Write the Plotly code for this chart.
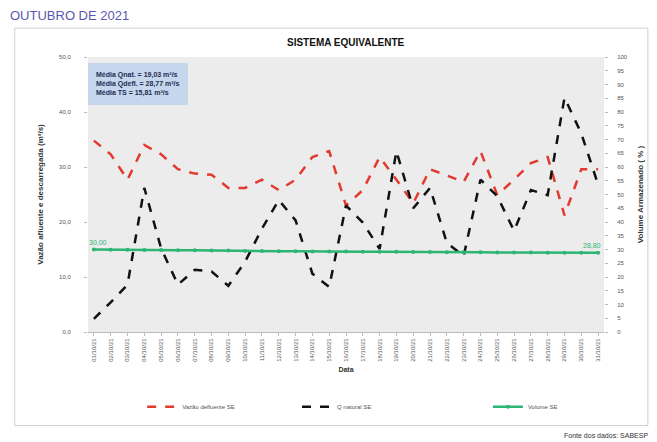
import plotly.graph_objects as go

dates = ["%02d/10/21" % d for d in range(1, 32)]

vazao_defluente = [34.8, 32.3, 27.7, 34.0, 32.3, 29.6, 28.8, 28.6, 26.2, 26.2,
                   27.7, 25.8, 27.7, 31.8, 32.9, 23.0, 25.8, 31.8, 27.7, 23.4,
                   29.6, 28.4, 27.3, 32.9, 24.9, 27.7, 30.7, 31.8, 21.2, 29.6, 29.6]

q_natural = [2.4, 5.4, 8.6, 26.2, 15.2, 8.6, 11.3, 11.0, 8.4, 12.8,
             18.8, 24.0, 20.3, 10.6, 8.2, 23.0, 19.9, 15.1, 32.9, 22.5,
             26.2, 16.2, 13.8, 27.7, 24.7, 18.4, 25.8, 24.9, 42.6, 36.1, 26.8]

volume = [30.0, 29.9, 29.9, 29.8, 29.8, 29.7, 29.7, 29.6, 29.6, 29.5,
          29.5, 29.4, 29.4, 29.3, 29.3, 29.3, 29.2, 29.2, 29.2, 29.1,
          29.1, 29.0, 29.0, 29.0, 28.9, 28.9, 28.9, 28.8, 28.8, 28.8, 28.8]

left_ticks = [0, 10, 20, 30, 40, 50]
left_ticktext = ["0,0", "10,0", "20,0", "30,0", "40,0", "50,0"]
right_ticks = list(range(0, 101, 5))

info_lines = ["Média Qnat. = 19,03 m³/s", "Média Qdefl. = 28,77 m³/s", "Média TS = 15,81 m³/s"]

FONT = "Liberation Sans, Arial, sans-serif"

fig = go.Figure()
fig.add_trace(go.Scatter(x=dates, y=vazao_defluente, name="Vazão defluente SE", legend="legend",
                         mode="lines", line=dict(color="#e23a2e", width=2.5, dash="dash")))
fig.add_trace(go.Scatter(x=dates, y=q_natural, name="Q natural SE", legend="legend2",
                         mode="lines", line=dict(color="#111111", width=2.5, dash="dash")))
fig.add_trace(go.Scatter(x=dates, y=volume, name="Volume SE", yaxis="y2", legend="legend3",
                         mode="lines+markers", line=dict(color="#2bb673", width=2.5),
                         marker=dict(size=4, color="#2bb673")))

fig.add_annotation(x=dates[0], y=volume[0], yref="y2", text="30,00", showarrow=False,
                   yshift=7, xshift=4, font=dict(size=7, color="#2bb673", family=FONT))
fig.add_annotation(x=dates[-1], y=volume[-1], yref="y2", text="28,80", showarrow=False,
                   yshift=7, xshift=-6, font=dict(size=7, color="#2bb673", family=FONT))

fig.add_annotation(xref="paper", yref="paper", x=0.0, y=0.978, xanchor="left", yanchor="top",
                   text="<br>".join("<b>%s</b>" % s for s in info_lines), showarrow=False, align="left",
                   bgcolor="#c6d6ec", bordercolor="#c6d6ec", borderwidth=1, borderpad=7,
                   font=dict(size=7, color="#1f2d55", family=FONT))

fig.add_annotation(xref="paper", yref="paper", x=-0.155, y=1.15, xanchor="left", yanchor="middle",
                   text="OUTUBRO DE 2021", showarrow=False,
                   font=dict(size=13, color="#5b57b0", family=FONT))
fig.add_annotation(xref="paper", yref="paper", x=0.5, y=1.025, xanchor="center", yanchor="bottom",
                   text="<b>SISTEMA EQUIVALENTE</b>", showarrow=False,
                   font=dict(size=10, color="#111111", family=FONT))
fig.add_annotation(xref="paper", yref="paper", x=1.089, y=-0.375, xanchor="right", yanchor="middle",
                   text="Fonte dos dados: SABESP", showarrow=False,
                   font=dict(size=7, color="#333333", family=FONT))

fig.add_shape(type="rect", xref="paper", yref="paper", x0=-0.142, x1=1.085, y0=-0.34, y1=1.105,
              line=dict(color="#d0d0d0", width=1), fillcolor="rgba(0,0,0,0)", layer="below")

leg_common = dict(orientation="h", xanchor="left", y=0.08, yanchor="middle", yref="container",
                  font=dict(size=6, color="#555555"), bgcolor="rgba(0,0,0,0)")

fig.update_layout(
    width=657, height=442,
    margin=dict(l=88, r=53, t=57, b=110),
    paper_bgcolor="white", plot_bgcolor="#ececec",
    font=dict(family=FONT, size=6, color="#444444"),
    showlegend=True,
    legend=dict(x=0.105, **leg_common),
    legend2=dict(x=0.405, **leg_common),
    legend3=dict(x=0.775, **leg_common),
    xaxis=dict(type="category", range=[-0.35, 30.35], tickangle=-90,
               tickfont=dict(size=6, color="#555555"),
               title=dict(text="<b>Data</b>", font=dict(size=7, color="#333333"), standoff=6),
               showgrid=False, showline=True, linecolor="#bbbbbb", ticks="outside",
               ticklen=3, tickcolor="#bbbbbb", automargin=False),
    yaxis=dict(range=[0, 50], tickvals=left_ticks, ticktext=left_ticktext,
               tickfont=dict(size=6, color="#555555"), showgrid=False, zeroline=False,
               title=dict(text="<b>Vazão afluente e descarregada (m³/s)</b>",
                          font=dict(size=8, color="#333333"), standoff=14),
               ticks="outside", ticklen=3, tickcolor="#bbbbbb", ticklabelstandoff=12,
               automargin=False),
    yaxis2=dict(range=[0, 100], tickvals=right_ticks, overlaying="y", side="right",
                tickfont=dict(size=6, color="#555555"), showgrid=False, zeroline=False,
                title=dict(text="<b>Volume Armazenado ( % )</b>",
                           font=dict(size=8, color="#333333"), standoff=10),
                ticks="outside", ticklen=3, tickcolor="#bbbbbb", ticklabelstandoff=8,
                automargin=False),
)

fig.write_html("out.html")
